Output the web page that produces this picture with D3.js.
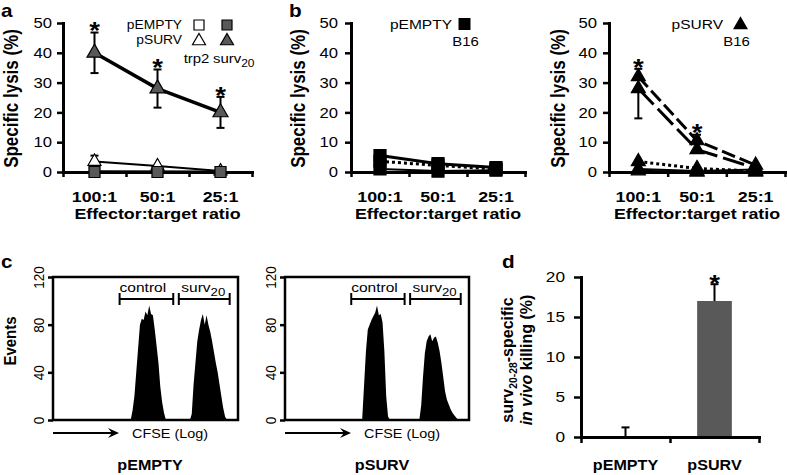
<!DOCTYPE html>
<html><head><meta charset="utf-8">
<script src="https://cdn.jsdelivr.net/npm/d3@7"></script>
<style>body{margin:0;background:#fff}</style>
</head><body>
<script>
// ================= DATA =================
const ratios = ["100:1", "50:1", "25:1"];
const lysisTicks = [0, 10, 20, 30, 40, 50];

// panel a (targets: trp2 = open, surv20 = filled)
const aEmptyTrp2 = [0.2, 0.1, 0.0];
const aEmptySurv20 = [0, 0, 0];
const aSurvTrp2 = [3.5, 2.0, 0.3];
const aSurvTrp2Err = [2.0, 0, 0];
const aSurvSurv20 = [40, 28, 20];
const aSurvSurv20Err = [6.8, 6.4, 5.2];
const aStars = [true, true, true];

// panel b, pEMPTY vs B16
const bEmpty1 = [5.5, 2.8, 1.5];
const bEmpty2 = [3.6, 2.2, 1.0];
const bEmpty3 = [1.0, 0.3, 0.6];
// panel b, pSURV vs B16
const bSurv1 = [32, 10.5, 2.3];
const bSurv1ErrUp = [2.6, 2.0, 0];
const bSurv2 = [28, 7.5, 1.3];
const bSurv2ErrDown = [10, 0, 0];
const bSurv3 = [3.5, 1.2, 0.3];
const bSurv4 = [1.0, 0.3, 0.8];
const bSurv5 = [0.4, 0, 0];
const bSurvStars = [true, true, false];

// panel c (CFSE histograms, channel units 0-100, events)
const histTicks = [0, 40, 80, 120];
const gateControl = [36, 65];
const gateSurv20 = [68, 95.5];
const emptyControlStart = 42;
const emptyControl = [0, 8, 20, 40, 60, 80, 85, 84, 91, 88, 96, 89, 88, 76, 62, 48, 28, 15, 6, 0];
const emptySurv20Start = 74;
const emptySurv20 = [0, 5, 30, 48, 66, 76, 84, 89, 80, 88, 80, 74, 66, 57, 48, 40, 30, 20, 10, 3, 0];
const survControlStart = 42;
const survControl = [2, 30, 58, 76, 80, 84, 87, 90, 96, 88, 89, 82, 58, 20, 3, 0];
const survSurv20Start = 73;
const survSurv20 = [0, 12, 36, 56, 66, 70, 72, 66, 69, 70, 65, 58, 48, 36, 24, 17, 13, 9, 6, 4, 2, 0];

// panel d
const dCats = ["pEMPTY", "pSURV"];
const dValues = [0, 17];
const dErrors = [1.2, 2.1];
const dStars = [false, true];
const dTicks = [0, 5, 10, 15, 20];

// ================= DRAWING =================
const FONT = "'Liberation Sans', Arial, Helvetica, sans-serif";
const SX = 1.15;
const GRAY = "#595959";
const W = 787, H = 475;

const svg = d3.select("body").append("svg").attr("width", W).attr("height", H)
  .style("background", "#fff");
svg.append("rect").attr("width", W).attr("height", H).attr("fill", "#fff");

function txt(parent, x, y, parts, o = {}) {
  const size = o.size || 13;
  const sx = o.sx ?? SX;
  const tr = o.rot ? `translate(${x},${y}) rotate(${o.rot}) scale(1,${sx})`
                   : `translate(${x},${y}) scale(${sx},1)`;
  const t = parent.append("text").attr("transform", tr)
    .attr("font-family", FONT).attr("font-size", size)
    .attr("font-weight", o.weight || "normal")
    .attr("text-anchor", o.anchor || "middle").attr("fill", "#000");
  if (typeof parts === "string") parts = [{ t: parts }];
  let sub = false;
  const subK = o.subK || 0.8;
  const subDy = o.subDy || 0.3;
  parts.forEach(p => {
    const ts = t.append("tspan").text(p.t);
    if (p.italic) ts.attr("font-style", "italic");
    if (p.sub) {
      ts.attr("font-size", size * subK);
      if (!sub) ts.attr("dy", size * subDy);
      sub = true;
    } else if (sub) {
      ts.attr("dy", -size * subDy); sub = false;
    }
  });
  return t;
}

function styleAxis(a, fs, rotated, rotOff) {
  a.select(".domain").attr("stroke", "#000").attr("stroke-width", 3).attr("stroke-linecap", "square");
  a.selectAll(".tick line").attr("stroke", "#000").attr("stroke-width", 2.5);
  a.selectAll(".tick text").attr("font-size", fs).attr("font-family", FONT).attr("fill", "#000")
    .each(function () {
      const t = d3.select(this);
      if (rotated) {
        t.attr("x", 0).attr("dy", 0).attr("text-anchor", "middle")
         .attr("transform", `translate(${rotOff},0) rotate(-90) scale(1,${SX})`);
      } else {
        const xx = +t.attr("x") || 0;
        t.attr("x", 0).attr("transform", `translate(${xx},0) scale(${SX},1)`);
      }
    });
}

function sym(type, side) {
  if (type === "square") return d3.symbol(d3.symbolSquare, side * side)();
  return d3.symbol(d3.symbolTriangle, Math.sqrt(3) / 4 * side * side)();
}

function errBar(g, x, yFrom, yTo, capW = 8) {
  g.append("line").attr("x1", x).attr("x2", x).attr("y1", yFrom).attr("y2", yTo)
    .attr("stroke", "#000").attr("stroke-width", 2);
  g.append("line").attr("x1", x - capW / 2).attr("x2", x + capW / 2).attr("y1", yTo).attr("y2", yTo)
    .attr("stroke", "#000").attr("stroke-width", 2);
}

function star(g, x, cy) {
  const fs = 24;
  txt(g, x, cy + 0.57 * fs, "*", { size: fs, weight: "bold" });
}

// ---------- line panels (a, b) ----------
const LY0 = 172, LY1 = 23;
function linePanel(p) {
  const x = d3.scaleBand().domain(ratios).range([p.x0, p.x1]);
  const cx = c => x(c) + x.bandwidth() / 2;
  const y = d3.scaleLinear().domain([0, 50]).range([LY0, LY1]);
  const xe = d3.scaleLinear().domain([0, ratios.length]).range([p.x0, p.x1]);
  const g = svg.append("g");

  const line = d3.line().x((d, i) => cx(ratios[i])).y(d => y(d));
  p.series.forEach(s => g.append("path").attr("d", line(s.vals)).attr("fill", "none")
    .attr("stroke", "#000").attr("stroke-width", s.lw).attr("stroke-dasharray", s.dash || null));
  p.series.forEach(s => {
    if (s.errUp) s.errUp.forEach((e, i) => { if (e > 0) errBar(g, cx(ratios[i]), y(s.vals[i]), y(s.vals[i] + e)); });
    if (s.errDown) s.errDown.forEach((e, i) => { if (e > 0) errBar(g, cx(ratios[i]), y(s.vals[i]), y(s.vals[i] - e)); });
  });
  const ya = g.append("g").attr("transform", `translate(${p.x0},0)`)
    .call(d3.axisLeft(y).tickValues(lysisTicks).tickSize(6).tickSizeOuter(0).tickPadding(p.pad));
  styleAxis(ya, 14.5);
  const xa = g.append("g").attr("transform", `translate(0,${LY0})`)
    .call(d3.axisBottom(xe).tickValues(d3.range(ratios.length + 1)).tickSize(5).tickSizeOuter(0).tickFormat(""));
  styleAxis(xa, 12);
  p.order.forEach(k => {
    const s = p.series[k];
    s.vals.forEach((v, i) => g.append("path")
      .attr("transform", `translate(${cx(ratios[i])},${y(v)})`)
      .attr("d", sym(s.marker, s.msize)).attr("fill", s.fill)
      .attr("stroke", "#000").attr("stroke-width", s.sw || 1.2));
  });
  p.series.forEach(s => {
    if (s.stars) s.stars.forEach((st, i) => {
      if (st) star(g, cx(ratios[i]), y(s.vals[i] + (s.errUp ? s.errUp[i] : 0)) - 7);
    });
  });
  ratios.forEach(r => txt(g, cx(r), 202, r, { size: 15.5, weight: "bold" }));
  txt(g, (p.x0 + p.x1) / 2, 219, "Effector:target ratio", { size: 15.5, weight: "bold" });
  txt(g, p.ylabX, (LY0 + LY1) / 2 + 1, "Specific lysis (%)", { size: 17, weight: "bold", rot: -90 });
  return g;
}

// panel a
const ga = linePanel({
  x0: 63, x1: 252, pad: 5, ylabX: 18,
  series: [
    { vals: aSurvTrp2, errUp: aSurvTrp2Err, marker: "triangle", msize: 13, fill: "#fff", lw: 2 },
    { vals: aSurvSurv20, errUp: aSurvSurv20Err, errDown: aSurvSurv20Err, stars: aStars, marker: "triangle", msize: 15, fill: GRAY, lw: 3.5 },
    { vals: aEmptyTrp2, marker: "square", msize: 10, fill: "#fff", lw: 2 },
    { vals: aEmptySurv20, marker: "square", msize: 11, fill: GRAY, lw: 3 }
  ],
  order: [0, 1, 2, 3]
});
txt(ga, 182, 29, "pEMPTY", { size: 12, anchor: "end" });
txt(ga, 182, 44, "pSURV", { size: 12, anchor: "end" });
ga.append("path").attr("transform", "translate(199,25)").attr("d", sym("square", 10)).attr("fill", "#fff").attr("stroke", "#000").attr("stroke-width", 1.2);
ga.append("path").attr("transform", "translate(227,25)").attr("d", sym("square", 10)).attr("fill", GRAY).attr("stroke", "#000").attr("stroke-width", 1.2);
ga.append("path").attr("transform", "translate(199,41)").attr("d", sym("triangle", 13)).attr("fill", "#fff").attr("stroke", "#000").attr("stroke-width", 1.2);
ga.append("path").attr("transform", "translate(227,41)").attr("d", sym("triangle", 13)).attr("fill", GRAY).attr("stroke", "#000").attr("stroke-width", 1.2);
txt(ga, 196.5, 63, "trp2", { size: 13 });
txt(ga, 213, 63, [{ t: "surv" }, { t: "20", sub: true }], { size: 13, anchor: "start" });

// panel b left
const gb1 = linePanel({
  x0: 351, x1: 525, pad: 7, ylabX: 305,
  series: [
    { vals: bEmpty1, marker: "square", msize: 12, fill: "#000", lw: 3 },
    { vals: bEmpty2, marker: "square", msize: 12, fill: "#000", lw: 3, dash: "3,3" },
    { vals: bEmpty3, marker: "square", msize: 12, fill: "#000", lw: 2 }
  ],
  order: [2, 1, 0]
});
txt(gb1, 452, 29, "pEMPTY", { size: 13.5, anchor: "end" });
gb1.append("path").attr("transform", "translate(464.5,24)").attr("d", sym("square", 12)).attr("fill", "#000");
txt(gb1, 465.5, 46, "B16", { size: 13 });

// panel b right
const gb2 = linePanel({
  x0: 609, x1: 785, pad: 6, ylabX: 565,
  series: [
    { vals: bSurv1, errUp: bSurv1ErrUp, stars: bSurvStars, marker: "triangle", msize: 14, fill: "#000", lw: 3, dash: "14,5" },
    { vals: bSurv2, errDown: bSurv2ErrDown, marker: "triangle", msize: 14, fill: "#000", lw: 3, dash: "22,6" },
    { vals: bSurv3, marker: "triangle", msize: 14, fill: "#000", lw: 3, dash: "3,3" },
    { vals: bSurv4, marker: "triangle", msize: 14, fill: "#000", lw: 2 },
    { vals: bSurv5, marker: "triangle", msize: 14, fill: "#000", lw: 2 }
  ],
  order: [4, 3, 2, 1, 0]
});
txt(gb2, 723, 29, "pSURV", { size: 13.5, anchor: "end" });
gb2.append("path").attr("transform", "translate(740.5,25)").attr("d", sym("triangle", 15)).attr("fill", "#000");
txt(gb2, 736.5, 46, "B16", { size: 13 });

// ---------- histogram panels (c) ----------
const HY0 = 420, HY1 = 277;
function histPanel(p) {
  const x = d3.scaleLinear().domain([0, 100]).range([p.x0, p.x1]);
  const y = d3.scaleLinear().domain([0, 120]).range([HY0, HY1]);
  const g = svg.append("g");
  const area = d3.area().x(d => x(d.c)).y0(y(0)).y1(d => y(d.v));
  p.peaks.forEach(pk => {
    const pts = pk.vals.map((v, i) => ({ c: pk.start + i, v }));
    g.append("path").datum(pts).attr("d", area).attr("fill", "#000");
  });
  g.append("rect").attr("x", p.x0).attr("y", HY1).attr("width", p.x1 - p.x0).attr("height", HY0 - HY1)
    .attr("fill", "none").attr("stroke", "#000").attr("stroke-width", 2.5);
  const ya = g.append("g").attr("transform", `translate(${p.x0},0)`)
    .call(d3.axisLeft(y).tickValues(histTicks).tickSize(5).tickSizeOuter(0));
  styleAxis(ya, 13.5, true, -9);
  ya.select(".domain").remove();
  const by = 299;
  [gateControl, gateSurv20].forEach(gt => {
    const xa = x(gt[0]), xb = x(gt[1]);
    g.append("line").attr("x1", xa).attr("x2", xb).attr("y1", by).attr("y2", by).attr("stroke", "#000").attr("stroke-width", 2);
    [xa, xb].forEach(xx => g.append("line").attr("x1", xx).attr("x2", xx).attr("y1", by - 6).attr("y2", by + 6).attr("stroke", "#000").attr("stroke-width", 2));
  });
  txt(g, x(gateControl[0]), 292, "control", { size: 13.5, anchor: "start" });
  txt(g, x(gateSurv20[0]) + 2.5, 292, [{ t: "surv" }, { t: "20", sub: true }], { size: 13.5, anchor: "start", subK: 0.85 });
  const ay = 433, ax0 = p.x0, ax1 = p.x0 + 66;
  g.append("line").attr("x1", ax0).attr("x2", ax1 - 4).attr("y1", ay).attr("y2", ay).attr("stroke", "#000").attr("stroke-width", 2);
  g.append("path").attr("d", `M${ax1},${ay}L${ax1 - 11},${ay - 5}L${ax1 - 7},${ay}L${ax1 - 11},${ay + 5}Z`).attr("fill", "#000");
  txt(g, p.x0 + 117, 438, "CFSE (Log)", { size: 12.5 });
  txt(g, p.x0 + 97, 470, p.title, { size: 14, weight: "bold" });
  return g;
}
const gc1 = histPanel({
  x0: 53, x1: 238, title: "pEMPTY",
  peaks: [{ start: emptyControlStart, vals: emptyControl }, { start: emptySurv20Start, vals: emptySurv20 }]
});
txt(gc1, 16, 341, "Events", { size: 15, weight: "bold", rot: -90 });
histPanel({
  x0: 285, x1: 469, title: "pSURV",
  peaks: [{ start: survControlStart, vals: survControl }, { start: survSurv20Start, vals: survSurv20 }]
});

// ---------- panel d ----------
(function () {
  const x0 = 581, x1 = 759;
  const x = d3.scaleBand().domain(dCats).range([x0, x1]);
  const cx = c => x(c) + x.bandwidth() / 2;
  const xe = d3.scaleLinear().domain([0, dCats.length]).range([x0, x1]);
  const y = d3.scaleLinear().domain([0, 20]).range([437, 277]);
  const g = svg.append("g");
  const bw = x.bandwidth() * 0.39;
  g.selectAll(".bar").data(dValues).enter().append("rect")
    .attr("x", (d, i) => cx(dCats[i]) - bw / 2).attr("y", d => y(d))
    .attr("width", bw).attr("height", d => y(0) - y(d)).attr("fill", GRAY);
  dValues.forEach((v, i) => {
    errBar(g, cx(dCats[i]), y(v), y(v + dErrors[i]), 8);
    if (dStars[i]) star(g, cx(dCats[i]), y(v + dErrors[i]) - 6);
  });
  const ya = g.append("g").attr("transform", `translate(${x0},0)`)
    .call(d3.axisLeft(y).tickValues(dTicks).tickSize(7).tickSizeOuter(0).tickPadding(9));
  styleAxis(ya, 15);
  const xa = g.append("g").attr("transform", `translate(0,${y(0)})`)
    .call(d3.axisBottom(xe).tickValues(d3.range(dCats.length + 1)).tickSize(6).tickSizeOuter(0).tickFormat(""));
  styleAxis(xa, 12);
  dCats.forEach(c => txt(g, cx(c), 470, c, { size: 14, weight: "bold" }));
  txt(g, 513, 360, [{ t: "surv" }, { t: "20-28", sub: true }, { t: "-specific" }], { size: 16, weight: "bold", rot: -90, sx: 1.0, subK: 0.65, subDy: 0.22 });
  txt(g, 532, 360, [{ t: "in vivo", italic: true }, { t: " killing (%)" }], { size: 16, weight: "bold", rot: -90, sx: 1.0 });
})();

// panel letters
txt(svg, 1, 17, "a", { size: 18, weight: "bold", anchor: "start" });
txt(svg, 289, 17, "b", { size: 18, weight: "bold", anchor: "start" });
txt(svg, 1, 268, "c", { size: 18, weight: "bold", anchor: "start" });
txt(svg, 502, 268, "d", { size: 18, weight: "bold", anchor: "start" });
</script>
</body></html>
